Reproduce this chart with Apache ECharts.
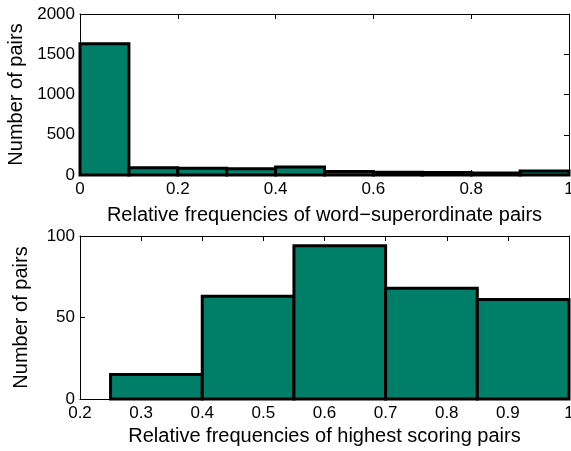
<!DOCTYPE html>
<html><head><meta charset="utf-8">
<script src="https://cdn.jsdelivr.net/npm/echarts@6/dist/echarts.min.js"></script>
<style>html,body{margin:0;padding:0;background:#fff}#c{width:571px;height:451px}</style>
</head><body><div id="c"></div>
<script>
const topBinEdges = [0,0.1,0.2,0.3,0.4,0.5,0.6,0.7,0.8,0.9,1.0];
const topCounts = [1630,90,85,78,100,45,35,30,25,50];
const botBinEdges = [0.25,0.4,0.55,0.7,0.85,1.0];
const botCounts = [15,63,94,68,61];
const topXLabel = 'Relative frequencies of word\u2212superordinate pairs';
const botXLabel = 'Relative frequencies of highest scoring pairs';
const yLabel = 'Number of pairs';

function toData(edges, counts){
  return counts.map((c,i)=>[edges[i], edges[i+1], c]);
}
const fill = '#007f68';
function render(params, api){
  const p0 = api.coord([api.value(0), api.value(2)]);
  const p1 = api.coord([api.value(1), 0]);
  return {type:'rect', shape:{x:p0[0], y:p0[1], width:p1[0]-p0[0], height:p1[1]-p0[1]},
    style:{fill:fill, stroke:'#000', lineWidth:3}};
}
const font = 'Liberation Sans, Arial, sans-serif';
const lbl = {color:'#000', fontSize:17, fontFamily:font};
const nameStyle = {color:'#000', fontSize:20, fontFamily:font};
function xAx(gi, min, max, interval, name, gap, margin){
  return [{gridIndex:gi, type:'value', min, max, interval, position:'bottom',
    axisLine:{show:true, onZero:false, lineStyle:{color:'#000', width:1}}, axisTick:{show:true, inside:true, length:5, lineStyle:{color:'#000'}},
    axisLabel:{...lbl, margin, formatter:v=>String(+v.toFixed(2))}, splitLine:{show:false},
    name, nameLocation:'middle', nameGap:gap, nameTextStyle:nameStyle},
   {gridIndex:gi, type:'value', min, max, interval, position:'top',
    axisLine:{show:true, onZero:false, lineStyle:{color:'#000', width:1}}, axisTick:{show:true, inside:true, length:5, lineStyle:{color:'#000'}},
    axisLabel:{show:false}, splitLine:{show:false}}];
}
function yAx(gi, min, max, interval){
  return [{gridIndex:gi, type:'value', min, max, interval, position:'left',
    axisLine:{show:true, onZero:false, lineStyle:{color:'#000'}}, axisTick:{show:true, inside:true, length:5, lineStyle:{color:'#000'}},
    axisLabel:{...lbl, margin:5, formatter:v=>String(v)}, splitLine:{show:false},
    name:yLabel, nameLocation:'middle', nameGap:49, nameTextStyle:nameStyle},
   {gridIndex:gi, type:'value', min, max, interval, position:'right',
    axisLine:{show:true, onZero:false, lineStyle:{color:'#000'}}, axisTick:{show:true, inside:true, length:5, lineStyle:{color:'#000'}},
    axisLabel:{show:false}, splitLine:{show:false}}];
}
const chart = echarts.init(document.getElementById('c'), null, {renderer:'canvas'});
chart.setOption({
  animation:false,
  grid:[{left:80, right:2, top:14, height:161, outerBoundsMode:'none', containLabel:false},
        {left:80, right:2, top:236, height:163, outerBoundsMode:'none', containLabel:false}],
  xAxis:[...xAx(0,0,1,0.2,topXLabel,30,6), ...xAx(1,0.2,1,0.1,botXLabel,27,6)],
  yAxis:[...yAx(0,0,2000,500), ...yAx(1,0,100,50)],
  series:[
    {type:'custom', xAxisIndex:0, yAxisIndex:0, renderItem:render, data:toData(topBinEdges, topCounts), encode:{x:[0,1], y:2}, clip:false},
    {type:'custom', xAxisIndex:2, yAxisIndex:2, renderItem:render, data:toData(botBinEdges, botCounts), encode:{x:[0,1], y:2}, clip:false}
  ]
});
</script></body></html>
